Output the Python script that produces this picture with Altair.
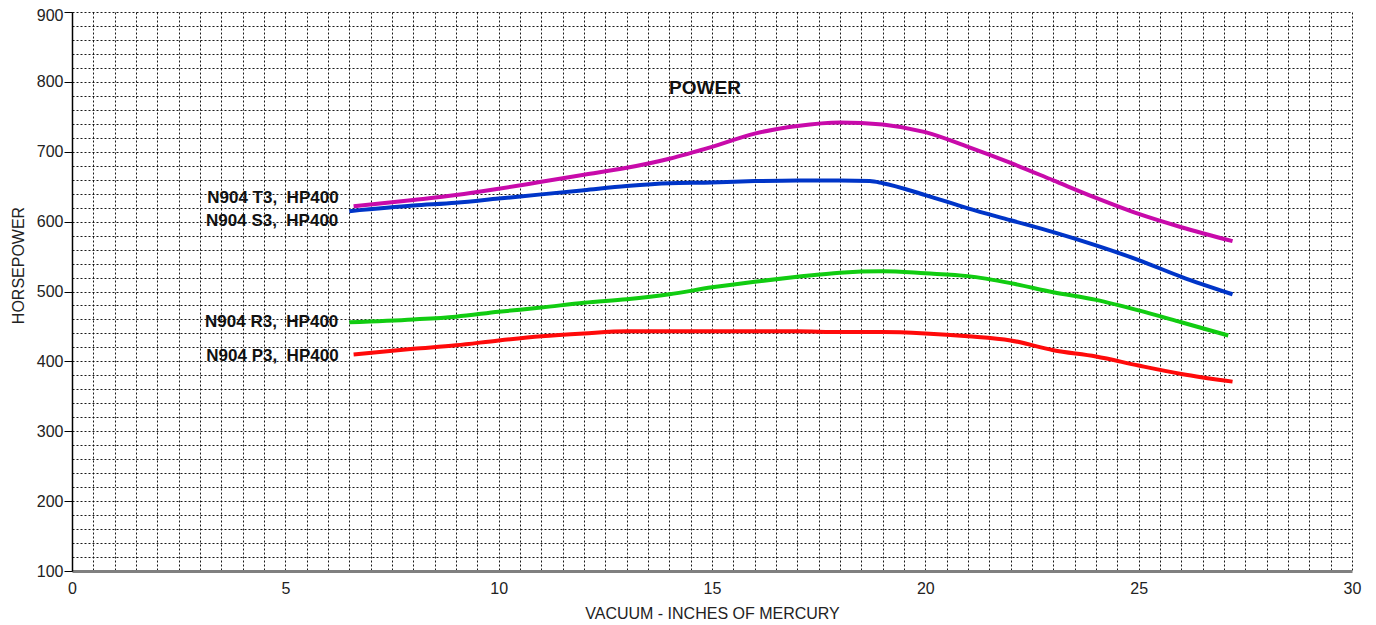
import altair as alt
import pandas as pd

# ---- data ----
vac_t3 = [6.6, 8, 9, 10, 11, 12, 13, 14, 15, 16, 17, 18, 19, 20, 21, 22, 23, 24, 25, 26, 27.2]
hp_t3 = [622, 631, 638, 647, 657, 667, 677, 690, 707, 726, 737, 742, 739, 728, 707, 684, 659, 634, 611, 592, 572]

vac_s3 = [6.5, 8, 9, 10, 11, 12, 13, 14, 15, 16, 17, 18, 18.7, 19, 20, 21, 22, 23, 24, 25, 26, 27.2]
hp_s3 = [615, 623, 627, 633, 639, 645, 651, 655, 656, 658, 659, 659, 658, 655, 638, 619, 602, 585, 566, 545, 521, 496]

vac_r3 = [6.5, 8, 9, 10, 11, 12, 13, 14, 15, 16, 17, 18, 19, 20, 21, 22, 23, 24, 25, 26, 27.1]
hp_r3 = [456, 460, 464, 471, 477, 484, 489, 496, 506, 514, 521, 527, 529, 526, 522, 512, 499, 488, 473, 456, 437]

vac_p3 = [6.6, 8, 9, 10, 11, 12, 13, 14, 15, 16, 17, 18, 19, 20, 21, 22, 23, 24, 25, 26, 27.2]
hp_p3 = [410, 418, 423, 430, 436, 440, 443, 443, 443, 443, 443, 442, 442, 440, 436, 430, 416, 407, 394, 382, 371]

series_names = ["N904 T3,\u00a0 HP400", "N904 S3,\u00a0 HP400", "N904 R3,\u00a0 HP400", "N904 P3,\u00a0 HP400"]
series_colors = ["#C80AAA", "#0035C8", "#11CC11", "#FF0A0A"]

x_grid_values = [i * 0.5 for i in range(0, 61)]
y_grid_values = [100 + i * 20 for i in range(0, 41)]

rows = []
for name, xs, ys in zip(series_names, [vac_t3, vac_s3, vac_r3, vac_p3], [hp_t3, hp_s3, hp_r3, hp_p3]):
    for v, h in zip(xs, ys):
        rows.append({"series": name, "vacuum": v, "hp": h})
df = pd.DataFrame(rows)

FONT = "Liberation Sans"

x_enc = alt.X(
    "vacuum:Q",
    scale=alt.Scale(domain=[0, 30], nice=False, zero=False),
    axis=alt.Axis(
        values=x_grid_values, tickCount=200,
        labelExpr="datum.value % 5 == 0 ? format(datum.value, 'd') : ''",
        labelOverlap=False,
        title="VACUUM - INCHES OF MERCURY",
        titleX=640, titleY=42, titleBaseline="middle", titleAlign="center",
        ticks=False, labelPadding=9,
        domainColor="#808080", domainWidth=3,
        labelFlush=False,
    ),
)
y_enc = alt.Y(
    "hp:Q",
    scale=alt.Scale(domain=[100, 900], nice=False, zero=False),
    axis=alt.Axis(
        values=y_grid_values, tickCount=200,
        labelExpr="datum.value % 100 == 0 ? format(datum.value, 'd') : ''",
        labelOverlap=False,
        labelOffset={"condition": {"test": "datum.value == 900", "value": 3}, "value": 0},
        title="HORSEPOWER",
        titleX=-54, titleY=253, titleAngle=270, titleBaseline="middle", titleAlign="center",
        ticks=True,
        tickSize={"condition": {"test": "datum.value % 100 == 0", "value": 8}, "value": 0},
        tickColor="#000000",
        labelPadding=1,
        domainColor="#000000", domainWidth=1.5,
        labelFlush=False,
    ),
)

lines = alt.Chart(df).mark_line(strokeWidth=4, interpolate="monotone").encode(
    x=x_enc,
    y=y_enc,
    color=alt.Color("series:N", scale=alt.Scale(domain=series_names, range=series_colors), legend=None),
    detail="series:N",
)

start_df = df.groupby("series", sort=False).first().reset_index()
label_shifts = {series_names[0]: (-15, -8), series_names[1]: (-11, 10),
                series_names[2]: (-11, 0), series_names[3]: (-15, 2)}
label_layers = []
for name in series_names:
    dx, dy = label_shifts[name]
    label_layers.append(
        alt.Chart(start_df[start_df["series"] == name]).mark_text(
            align="right", baseline="middle", font=FONT, fontSize=17, fontWeight="bold",
            color="#111111", dx=dx, dy=dy,
        ).encode(x="vacuum:Q", y="hp:Q", text="series:N")
    )

title_df = pd.DataFrame({"t": ["POWER"]})
title = alt.Chart(title_df).mark_text(
    align="center", baseline="middle", font=FONT, fontSize=19, fontWeight="bold", color="#111111"
).encode(x=alt.value(633), y=alt.value(76), text="t:N")

chart = alt.layer(lines, *label_layers, title).properties(
    width=1280, height=559,
    autosize=alt.AutoSizeParams(type="none"),
    padding={"left": 64, "top": 4, "right": 16, "bottom": 50},
).configure_view(stroke=None).configure_axis(
    grid=True, gridColor="#000000", gridDash=[2, 2], gridWidth=1, gridOpacity=0.9,
    labelFont=FONT, labelFontSize=16, labelColor="#222222",
    titleFont=FONT, titleFontSize=16, titleFontWeight="normal", titleColor="#222222",
)

chart.save("out.html", embed_options={"renderer": "svg", "actions": False})
